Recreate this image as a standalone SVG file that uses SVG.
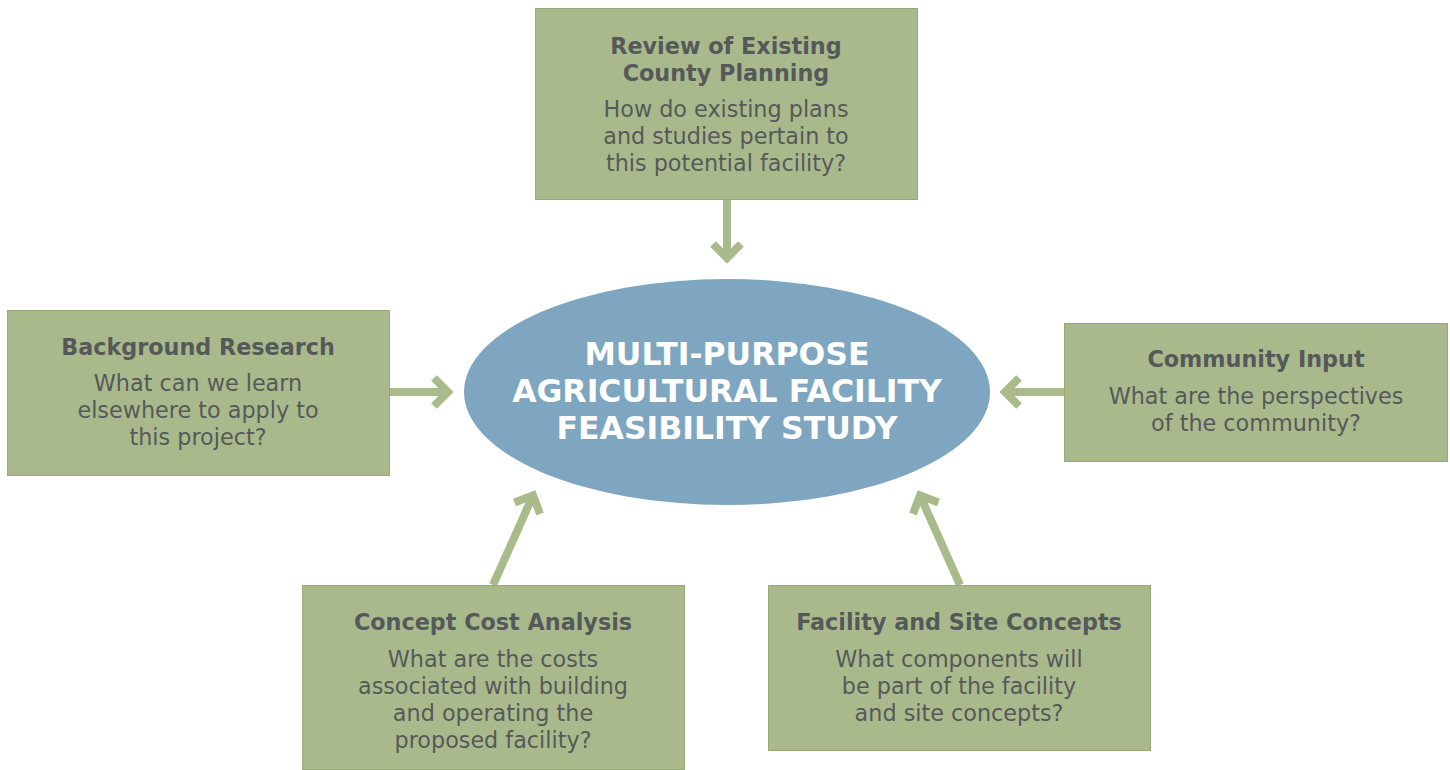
<svg xmlns="http://www.w3.org/2000/svg" width="1450" height="770" viewBox="0 0 1450 770">
<style>
.box{fill:#aab98c;stroke:#97aa78;stroke-width:1}
.t{font-family:"DejaVu Sans",Verdana,sans-serif;font-size:22.3px;fill:#55595a;text-anchor:middle}
.b{font-weight:bold}
.c{font-family:"DejaVu Sans",Verdana,sans-serif;font-size:31.5px;font-weight:bold;fill:#ffffff;text-anchor:middle}
.arr{stroke:#a9ba8b;stroke-width:8;fill:none;marker-end:url(#chev)}
</style>
<defs>
<marker id="chev" markerUnits="userSpaceOnUse" viewBox="-30 -30 60 60" markerWidth="60" markerHeight="60" refX="0" refY="0" orient="auto">
<path d="M-14,-14 L0,0 L-14,14" fill="none" stroke="#a9ba8b" stroke-width="8" stroke-miterlimit="10"/>
</marker>
</defs>
<g id="connectors">
<line class="arr" x1="727" y1="199" x2="727" y2="258"/>
<line class="arr" x1="389" y1="392" x2="448" y2="392"/>
<line class="arr" x1="1064" y1="392" x2="1005" y2="392"/>
<line class="arr" x1="493" y1="585" x2="533" y2="495.5"/>
<line class="arr" x1="960" y1="585" x2="920" y2="495.5"/>
</g>
<g id="center">
<ellipse cx="727" cy="392" rx="263" ry="113" fill="#7ea6c0"/>
<text class="c" x="727" y="365">MULTI-PURPOSE</text>
<text class="c" x="727" y="402">AGRICULTURAL FACILITY</text>
<text class="c" x="727" y="439">FEASIBILITY STUDY</text>
</g>
<g id="review">
<rect class="box" x="535.5" y="8.5" width="382" height="191"/>
<text class="t b" x="726" y="54">Review of Existing</text>
<text class="t b" x="726" y="81">County Planning</text>
<text class="t" x="726" y="117">How do existing plans</text>
<text class="t" x="726" y="144">and studies pertain to</text>
<text class="t" x="726" y="171">this potential facility?</text>
</g>
<g id="background">
<rect class="box" x="7.5" y="310.5" width="382" height="165"/>
<text class="t b" x="198" y="355">Background Research</text>
<text class="t" x="198" y="391">What can we learn</text>
<text class="t" x="198" y="418">elsewhere to apply to</text>
<text class="t" x="198" y="445">this project?</text>
</g>
<g id="community">
<rect class="box" x="1064.5" y="323.5" width="383" height="138"/>
<text class="t b" x="1256" y="367">Community Input</text>
<text class="t" x="1256" y="404">What are the perspectives</text>
<text class="t" x="1256" y="431">of the community?</text>
</g>
<g id="cost">
<rect class="box" x="302.5" y="585.5" width="382" height="184"/>
<text class="t b" x="493" y="630">Concept Cost Analysis</text>
<text class="t" x="493" y="667">What are the costs</text>
<text class="t" x="493" y="694">associated with building</text>
<text class="t" x="493" y="721">and operating the</text>
<text class="t" x="493" y="748">proposed facility?</text>
</g>
<g id="facility">
<rect class="box" x="768.5" y="585.5" width="382" height="165"/>
<text class="t b" x="959" y="630">Facility and Site Concepts</text>
<text class="t" x="959" y="667">What components will</text>
<text class="t" x="959" y="694">be part of the facility</text>
<text class="t" x="959" y="721">and site concepts?</text>
</g>
</svg>
